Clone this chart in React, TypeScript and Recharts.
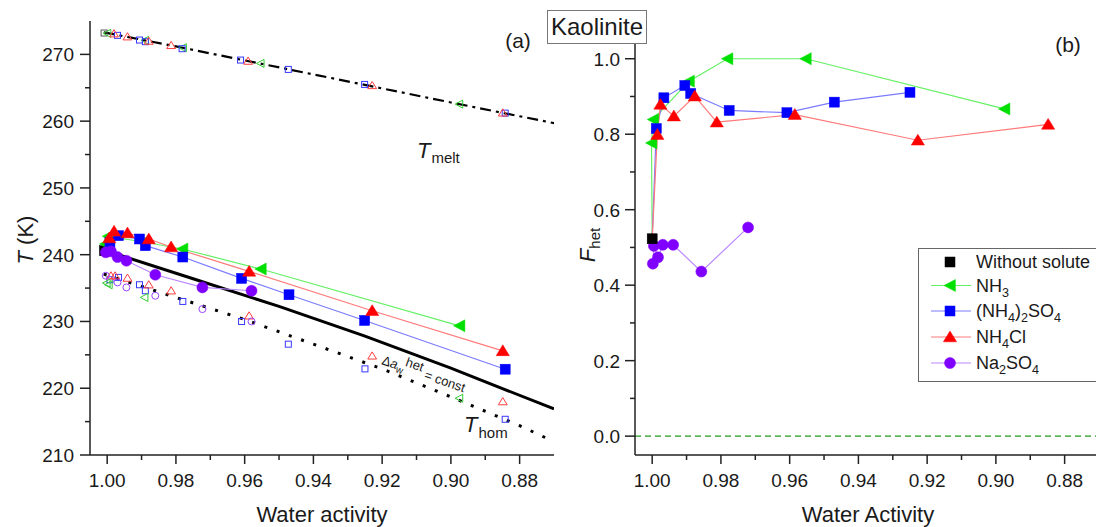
import React from 'react';
import { ComposedChart, Scatter, XAxis, YAxis, ReferenceLine } from 'recharts';

const FONT = '"Liberation Sans", Arial, Helvetica, sans-serif';

// ---------- ticks ----------
const xTicks = [1.0, 0.99, 0.98, 0.97, 0.96, 0.95, 0.94, 0.93, 0.92, 0.91, 0.9, 0.89, 0.88];
const tTicks = [210, 215, 220, 225, 230, 235, 240, 245, 250, 255, 260, 265, 270];
const fTicks = [0, 0.1, 0.2, 0.3, 0.4, 0.5, 0.6, 0.7, 0.8, 0.9, 1.0];

// ---------- panel (a): reference curves ----------
const meltAw = [1.001, 0.98, 0.96, 0.94, 0.92, 0.9, 0.87];
const meltT = [273.3, 271.2, 269.1, 267.0, 264.9, 262.8, 259.7];
const homAw = [1.001, 0.98, 0.96, 0.94, 0.92, 0.9, 0.88, 0.87];
const homT = [237.1, 233.6, 230.3, 226.6, 222.9, 218.7, 214.4, 212.0];
const hetAw = [1.001, 0.975, 0.95, 0.925, 0.9, 0.87];
const hetT = [240.7, 236.4, 232.25, 227.8, 223.0, 216.9];

// ---------- panel (a): heterogeneous freezing (filled) ----------
const pureHetAw = [1.0008];
const pureHetT = [240.6];
const nh3HetAw = [1.0005, 0.9997, 0.9893, 0.9781, 0.9553, 0.8975];
const nh3HetT = [241.6, 242.75, 241.9, 240.85, 237.85, 229.35];
const as2HetAw = [0.9992, 0.9967, 0.9906, 0.9889, 0.978, 0.9609, 0.9471, 0.9251, 0.8842];
const as2HetT = [241.85, 242.85, 242.35, 241.35, 239.65, 236.45, 234.0, 230.15, 222.85];
const nh4clHetAw = [0.9994, 0.998, 0.9941, 0.9879, 0.9814, 0.9587, 0.9229, 0.8849];
const nh4clHetT = [242.5, 243.5, 243.25, 242.35, 241.15, 237.5, 231.6, 225.6];
const na2HetAw = [1.0004, 0.9989, 0.997, 0.9944, 0.986, 0.9723, 0.958];
const na2HetT = [240.35, 240.5, 239.65, 239.1, 237.0, 235.1, 234.6];

// ---------- panel (a): homogeneous freezing (open) ----------
const nh3HomAw = [1.0002, 0.9996, 0.9892, 0.8976];
const nh3HomT = [235.75, 235.5, 233.6, 218.5];
const as2HomAw = [0.9992, 0.9967, 0.9906, 0.9889, 0.978, 0.9609, 0.9473, 0.925, 0.8842];
const as2HomT = [236.25, 236.6, 235.5, 234.6, 233.0, 230.0, 226.6, 222.9, 215.35];
const nh4clHomAw = [0.9989, 0.9977, 0.9941, 0.9879, 0.9814, 0.9587, 0.9229, 0.8849];
const nh4clHomT = [236.85, 236.85, 236.5, 235.5, 234.6, 230.85, 224.85, 218.0];
const na2HomAw = [1.0004, 0.997, 0.9944, 0.986, 0.9723, 0.958];
const na2HomT = [236.85, 235.85, 235.1, 233.85, 231.85, 230.0];

// ---------- panel (a): melting (open) ----------
const pureMeltAw = [1.0009];
const pureMeltT = [273.2];
const nh3MeltAw = [1.0, 0.989, 0.978, 0.9554, 0.8976];
const nh3MeltT = [273.15, 272.1, 271.0, 268.65, 262.55];
const as2MeltAw = [0.997, 0.9906, 0.9889, 0.9782, 0.9612, 0.9473, 0.9251, 0.8842];
const as2MeltT = [272.85, 272.15, 271.9, 270.85, 269.15, 267.75, 265.5, 261.2];
const nh4clMeltAw = [0.998, 0.9941, 0.9879, 0.9814, 0.959, 0.9229, 0.8849];
const nh4clMeltT = [273.1, 272.65, 272.0, 271.35, 269.0, 265.35, 261.25];

// ---------- panel (b): F_het ----------
const pureFAw = [1.0];
const pureF = [0.523];
const nh3FAw = [1.0, 1.0002, 0.9997, 0.9893, 0.9781, 0.9553, 0.8975];
const nh3F = [0.523, 0.777, 0.839, 0.9406, 1.0, 1.0, 0.867];
const as2FAw = [1.0, 0.9988, 0.9966, 0.9905, 0.9888, 0.9776, 0.9608, 0.947, 0.925];
const as2F = [0.523, 0.815, 0.8965, 0.929, 0.908, 0.863, 0.857, 0.885, 0.911];
const nh4clFAw = [1.0, 0.9985, 0.9976, 0.9937, 0.9876, 0.9812, 0.9585, 0.9227, 0.8848];
const nh4clF = [0.523, 0.799, 0.879, 0.848, 0.901, 0.832, 0.852, 0.784, 0.826];
const na2FAw = [0.9998, 0.9995, 0.9983, 0.9969, 0.9939, 0.9857, 0.9721];
const na2F = [0.457, 0.504, 0.474, 0.507, 0.507, 0.436, 0.553];

const legendLabels = ['Without solute', 'NH3', '(NH4)2SO4', 'NH4Cl', 'Na2SO4'];

// ---------- colours ----------
const C = {
  black: '#000000',
  green: '#00e000', greenLine: '#66f066', greenOpen: '#33cc33',
  blue: '#0000ff', blueLine: '#7a7aff', blueOpen: '#3838ff',
  red: '#ff0000', redLine: '#ff7a7a', redOpen: '#ff3c3c',
  purple: '#8000ff', purpleLine: '#bb88ff', purpleOpen: '#9944ff',
};

const pts = (aw: number[], v: number[], key: string) => aw.map((a, i) => ({ aw: a, [key]: v[i] }));

// ---------- marker shapes ----------
const none = () => <g />;
const square = (color: string, filled: boolean, h: number) => (p: any) =>
  p.cx == null ? <g /> : (
    <rect x={p.cx - h} y={p.cy - h} width={2 * h} height={2 * h}
      fill={filled ? color : 'none'} stroke={color} strokeWidth={filled ? 0.5 : 1} />
  );
const triUp = (color: string, filled: boolean, s: number) => (p: any) =>
  p.cx == null ? <g /> : (
    <polygon points={`${p.cx},${p.cy - s} ${p.cx - s * 1.1},${p.cy + s * 0.8} ${p.cx + s * 1.1},${p.cy + s * 0.8}`}
      fill={filled ? color : 'none'} stroke={color} strokeWidth={filled ? 0.5 : 1} />
  );
const triLeft = (color: string, filled: boolean, s: number) => (p: any) =>
  p.cx == null ? <g /> : (
    <polygon points={`${p.cx - s},${p.cy} ${p.cx + s * 0.9},${p.cy - s} ${p.cx + s * 0.9},${p.cy + s}`}
      fill={filled ? color : 'none'} stroke={color} strokeWidth={filled ? 0.5 : 1} />
  );
const circle = (color: string, filled: boolean, r: number) => (p: any) =>
  p.cx == null ? <g /> : (
    <circle cx={p.cx} cy={p.cy} r={r} fill={filled ? color : 'none'} stroke={color} strokeWidth={filled ? 0.5 : 1} />
  );

// ---------- tick renderers ----------
const TICK_FILL = '#1a1a1a';
const xMajor = (v: number) => Math.round(v * 100) % 2 === 0;
const XBottomTick = (p: any) => {
  const v = p.payload.value;
  const m = xMajor(v);
  return (
    <g>
      <line x1={p.x} y1={p.y} x2={p.x} y2={p.y + (m ? 9 : 5)} stroke="#222" strokeWidth={1.5} />
      {m && (
        <text x={p.x} y={p.y + 32} textAnchor="middle" fontSize={19} fontFamily={FONT} fill={TICK_FILL}>
          {v.toFixed(2)}
        </text>
      )}
    </g>
  );
};
const XTopTick = (p: any) => {
  const m = xMajor(p.payload.value);
  return <line x1={p.x} y1={p.y} x2={p.x} y2={p.y - (m ? 9 : 5)} stroke="#222" strokeWidth={1.5} />;
};
const TLeftTick = (p: any) => {
  const v = p.payload.value;
  const m = v % 10 === 0;
  return (
    <g>
      <line x1={p.x} y1={p.y} x2={p.x - (m ? 10 : 5)} y2={p.y} stroke="#222" strokeWidth={1.5} />
      {m && (
        <text x={p.x - 16} y={p.y + 7} textAnchor="end" fontSize={19} fontFamily={FONT} fill={TICK_FILL}>
          {String(v)}
        </text>
      )}
    </g>
  );
};
const TRightTick = (p: any) => {
  const m = p.payload.value % 10 === 0;
  return <line x1={p.x} y1={p.y} x2={p.x + (m ? 9 : 5)} y2={p.y} stroke="#222" strokeWidth={1.5} />;
};
const fMajor = (v: number) => Math.round(v * 10) % 2 === 0;
const FLeftTick = (p: any) => {
  const v = p.payload.value;
  const m = fMajor(v);
  return (
    <g>
      <line x1={p.x} y1={p.y} x2={p.x - (m ? 10 : 5)} y2={p.y} stroke="#222" strokeWidth={1.5} />
      {m && (
        <text x={p.x - 15} y={p.y + 7} textAnchor="end" fontSize={19} fontFamily={FONT} fill={TICK_FILL}>
          {v.toFixed(1)}
        </text>
      )}
    </g>
  );
};
const FRightTick = (p: any) => {
  const m = fMajor(p.payload.value);
  return <line x1={p.x} y1={p.y} x2={p.x + (m ? 9 : 5)} y2={p.y} stroke="#222" strokeWidth={1.5} />;
};

const axisLine = { stroke: '#222', strokeWidth: 1.5 };
const X_DOMAIN: [number, number] = [0.87, 1.005];

// subscript helper for chemical formulas
const Formula = ({ s, size }: { s: string; size: number }) => {
  const parts = s.split(/(\d+)/).filter((x) => x !== '');
  let sub = false;
  return (
    <>
      {parts.map((part, i) => {
        const isNum = /^\d+$/.test(part);
        let dy = 0;
        if (isNum && !sub) { dy = 5; sub = true; }
        else if (!isNum && sub) { dy = -5; sub = false; }
        return (
          <tspan key={i} dy={dy} fontSize={isNum ? size * 0.7 : size}>{part}</tspan>
        );
      })}
    </>
  );
};

export default function App() {
  const melt = pts(meltAw, meltT, 'T');
  const hom = pts(homAw, homT, 'T');
  const het = pts(hetAw, hetT, 'T');

  const legendRows = [
    { color: C.black, line: null as string | null, shape: 'square' },
    { color: C.green, line: C.greenLine, shape: 'left' },
    { color: C.blue, line: C.blueLine, shape: 'square' },
    { color: C.red, line: C.redLine, shape: 'up' },
    { color: C.purple, line: C.purpleLine, shape: 'circle' },
  ];
  const rowY = [262, 285.5, 311, 337, 363];

  return (
    <div style={{ position: 'absolute', left: 0, top: 0, width: 1096, height: 527, overflow: 'hidden', background: '#fff' }}>
      {/* Panel (a) */}
      <div style={{ position: 'absolute', left: 0, top: 0 }}>
        <ComposedChart width={580} height={527} margin={{ top: 21, right: 26, bottom: 42, left: 30 }}>
          <XAxis xAxisId={0} type="number" dataKey="aw" domain={X_DOMAIN} reversed allowDataOverflow
            ticks={xTicks} interval={0} tickSize={0} tickMargin={0} tickLine={false}
            axisLine={axisLine} tick={XBottomTick} height={30} />
          <XAxis xAxisId="top" orientation="top" type="number" domain={X_DOMAIN} reversed allowDataOverflow
            ticks={xTicks} interval={0} tickSize={0} tickMargin={0} tickLine={false}
            axisLine={axisLine} tick={XTopTick} height={0} />
          <YAxis yAxisId={0} type="number" dataKey="T" domain={[210, 275]} allowDataOverflow
            ticks={tTicks} interval={0} tickSize={0} tickMargin={0} tickLine={false}
            axisLine={axisLine} tick={TLeftTick} width={60} />
          <YAxis yAxisId="right" orientation="right" type="number" domain={[210, 275]} allowDataOverflow
            ticks={tTicks} interval={0} tickSize={0} tickMargin={0} tickLine={false}
            axisLine={axisLine} tick={TRightTick} width={0} />

          {/* reference curves */}
          <Scatter data={melt} isAnimationActive={false} shape={none} lineType="joint"
            line={{ stroke: '#000', strokeWidth: 2.2, strokeDasharray: '11 5 3 5' }} />
          <Scatter data={hom} isAnimationActive={false} shape={none} lineType="joint"
            line={{ stroke: '#000', strokeWidth: 3, strokeDasharray: '3 10' }} />
          <Scatter data={het} isAnimationActive={false} shape={none} lineType="joint"
            line={{ stroke: '#000', strokeWidth: 3 }} />

          {/* homogeneous freezing (open) */}
          <Scatter data={pts(as2HomAw, as2HomT, 'T')} isAnimationActive={false} shape={square(C.blueOpen, false, 3)} />
          <Scatter data={pts(nh4clHomAw, nh4clHomT, 'T')} isAnimationActive={false} shape={triUp(C.redOpen, false, 4)} />
          <Scatter data={pts(nh3HomAw, nh3HomT, 'T')} isAnimationActive={false} shape={triLeft(C.greenOpen, false, 4)} />
          <Scatter data={pts(na2HomAw, na2HomT, 'T')} isAnimationActive={false} shape={circle(C.purpleOpen, false, 3.5)} />

          {/* melting (open) */}
          <Scatter data={pts(pureMeltAw, pureMeltT, 'T')} isAnimationActive={false} shape={square('#555', false, 3)} />
          <Scatter data={pts(nh3MeltAw, nh3MeltT, 'T')} isAnimationActive={false} shape={triLeft(C.greenOpen, false, 4)} />
          <Scatter data={pts(as2MeltAw, as2MeltT, 'T')} isAnimationActive={false} shape={square(C.blueOpen, false, 3)} />
          <Scatter data={pts(nh4clMeltAw, nh4clMeltT, 'T')} isAnimationActive={false} shape={triUp(C.redOpen, false, 4)} />

          {/* heterogeneous freezing lines */}
          <Scatter data={pts(nh3HetAw, nh3HetT, 'T')} isAnimationActive={false} shape={none} lineType="joint" line={{ stroke: C.greenLine, strokeWidth: 1.2 }} />
          <Scatter data={pts(as2HetAw, as2HetT, 'T')} isAnimationActive={false} shape={none} lineType="joint" line={{ stroke: C.blueLine, strokeWidth: 1.2 }} />
          <Scatter data={pts(nh4clHetAw, nh4clHetT, 'T')} isAnimationActive={false} shape={none} lineType="joint" line={{ stroke: C.redLine, strokeWidth: 1.2 }} />
          <Scatter data={pts(na2HetAw, na2HetT, 'T')} isAnimationActive={false} shape={none} lineType="joint" line={{ stroke: C.purpleLine, strokeWidth: 1.2 }} />

          {/* heterogeneous freezing markers */}
          <Scatter data={pts(pureHetAw, pureHetT, 'T')} isAnimationActive={false} shape={square(C.black, true, 5)} />
          <Scatter data={pts(nh3HetAw, nh3HetT, 'T')} isAnimationActive={false} shape={triLeft(C.green, true, 6)} />
          <Scatter data={pts(as2HetAw, as2HetT, 'T')} isAnimationActive={false} shape={square(C.blue, true, 5)} />
          <Scatter data={pts(nh4clHetAw, nh4clHetT, 'T')} isAnimationActive={false} shape={triUp(C.red, true, 6)} />
          <Scatter data={pts(na2HetAw, na2HetT, 'T')} isAnimationActive={false} shape={circle(C.purple, true, 5.5)} />
        </ComposedChart>
      </div>

      {/* Panel (b) */}
      <div style={{ position: 'absolute', left: 580, top: 0 }}>
        <ComposedChart width={520} height={527} margin={{ top: 21, right: 1, bottom: 42, left: 5 }}>
          <XAxis xAxisId={0} type="number" dataKey="aw" domain={X_DOMAIN} reversed allowDataOverflow
            ticks={xTicks} interval={0} tickSize={0} tickMargin={0} tickLine={false}
            axisLine={axisLine} tick={XBottomTick} height={30} />
          <XAxis xAxisId="top" orientation="top" type="number" domain={X_DOMAIN} reversed allowDataOverflow
            ticks={xTicks} interval={0} tickSize={0} tickMargin={0} tickLine={false}
            axisLine={axisLine} tick={XTopTick} height={0} />
          <YAxis yAxisId={0} type="number" dataKey="F" domain={[-0.05, 1.1]} allowDataOverflow
            ticks={fTicks} interval={0} tickSize={0} tickMargin={0} tickLine={false}
            axisLine={axisLine} tick={FLeftTick} width={50} />
          <YAxis yAxisId="right" orientation="right" type="number" domain={[-0.05, 1.1]} allowDataOverflow
            ticks={fTicks} interval={0} tickSize={0} tickMargin={0} tickLine={false}
            axisLine={axisLine} tick={FRightTick} width={0} />

          <ReferenceLine y={0} stroke="#1f9a1f" strokeWidth={1.2} strokeDasharray="6 4" />

          {/* lines */}
          <Scatter data={pts(nh3FAw, nh3F, 'F')} isAnimationActive={false} shape={none} lineType="joint" line={{ stroke: C.greenLine, strokeWidth: 1.2 }} />
          <Scatter data={pts(as2FAw, as2F, 'F')} isAnimationActive={false} shape={none} lineType="joint" line={{ stroke: C.blueLine, strokeWidth: 1.2 }} />
          <Scatter data={pts(nh4clFAw, nh4clF, 'F')} isAnimationActive={false} shape={none} lineType="joint" line={{ stroke: C.redLine, strokeWidth: 1.2 }} />
          <Scatter data={pts(na2FAw, na2F, 'F')} isAnimationActive={false} shape={none} lineType="joint" line={{ stroke: C.purpleLine, strokeWidth: 1.2 }} />

          {/* markers (first point of each solute line is the pure-water point) */}
          <Scatter data={pts(nh3FAw.slice(1), nh3F.slice(1), 'F')} isAnimationActive={false} shape={triLeft(C.green, true, 6)} />
          <Scatter data={pts(as2FAw.slice(1), as2F.slice(1), 'F')} isAnimationActive={false} shape={square(C.blue, true, 5)} />
          <Scatter data={pts(nh4clFAw.slice(1), nh4clF.slice(1), 'F')} isAnimationActive={false} shape={triUp(C.red, true, 6)} />
          <Scatter data={pts(na2FAw, na2F, 'F')} isAnimationActive={false} shape={circle(C.purple, true, 5.5)} />
          <Scatter data={pts(pureFAw, pureF, 'F')} isAnimationActive={false} shape={square(C.black, true, 5)} />
        </ComposedChart>
      </div>

      {/* annotations, titles, legend */}
      <svg width={1096} height={527} style={{ position: 'absolute', left: 0, top: 0, pointerEvents: 'none' }}
        fontFamily={FONT} fill="#1a1a1a">
        {/* axis titles */}
        <text x={322} y={522} textAnchor="middle" fontSize={22}>Water activity</text>
        <text x={868} y={522} textAnchor="middle" fontSize={22}>Water Activity</text>
        <text transform="translate(33,240) rotate(-90)" textAnchor="middle" fontSize={22}>
          <tspan fontStyle="italic">T</tspan> (K)
        </text>
        <text transform="translate(595,245) rotate(-90)" textAnchor="middle" fontSize={22}>
          <tspan fontStyle="italic">F</tspan><tspan fontSize={15} dy={5}>het</tspan>
        </text>

        {/* panel tags */}
        <text x={518} y={48} textAnchor="middle" fontSize={21}>(a)</text>
        <text x={1068} y={52} textAnchor="middle" fontSize={21}>(b)</text>

        {/* curve labels */}
        <text x={417} y={158} fontSize={22}>
          <tspan fontStyle="italic">T</tspan><tspan fontSize={15} dy={5} dx={1}>melt</tspan>
        </text>
        <text x={464} y={432} fontSize={22}>
          <tspan fontStyle="italic">T</tspan><tspan fontSize={15} dy={6} dx={1}>hom</tspan>
        </text>
        <text transform="translate(381,364) rotate(19)" fontSize={13}>
          Δ<tspan fontStyle="italic">a</tspan><tspan fontSize={10} dy={3}>w</tspan><tspan dy={-9} fontSize={13}>het</tspan><tspan dy={6}> = const</tspan>
        </text>

        {/* title box */}
        <rect x={547.5} y={10.5} width={99} height={33} fill="#fff" stroke="#777" strokeWidth={1} />
        <text x={597} y={35} textAnchor="middle" fontSize={24}>Kaolinite</text>

        {/* legend */}
        <rect x={918.5} y={248.5} width={180} height={133} fill="#fff" stroke="#666" strokeWidth={1} />
        {legendRows.map((r, i) => {
          const cy = rowY[i];
          const cx = 950;
          const p = { cx, cy };
          let mk: any;
          if (r.shape === 'square') mk = square(r.color, true, 5)(p);
          else if (r.shape === 'left') mk = triLeft(r.color, true, 6)(p);
          else if (r.shape === 'up') mk = triUp(r.color, true, 6)(p);
          else mk = circle(r.color, true, 5.5)(p);
          return (
            <g key={i}>
              {r.line && <line x1={931} y1={cy} x2={971} y2={cy} stroke={r.line} strokeWidth={1.2} />}
              {mk}
              <text x={976} y={cy + 6} fontSize={18}>
                <Formula s={legendLabels[i]} size={18} />
              </text>
            </g>
          );
        })}
      </svg>
    </div>
  );
}
